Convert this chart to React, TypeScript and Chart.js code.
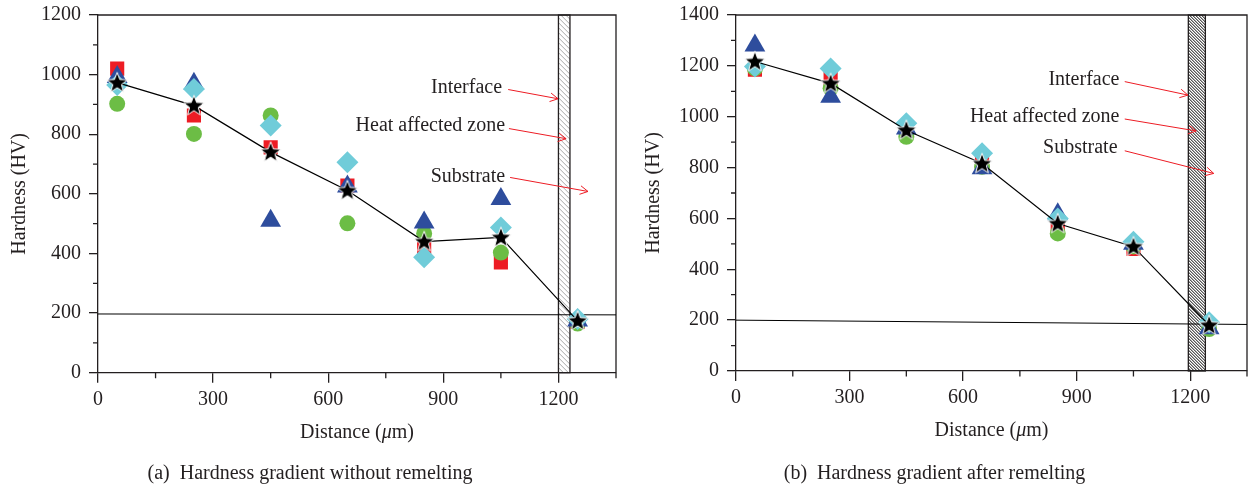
import React, { useEffect, useRef } from 'react';
import { Chart, registerables } from 'chart.js';

Chart.register(...registerables);

// ---------- data ----------
const distances = [50, 250, 450, 650, 850, 1050, 1250];

// (a) without remelting
const aSquare = [1020, 863, 756, 628, 415, 370, 170];
const aTriangle = [992, 969, 510, 625, 504, 583, 175];
const aDiamond = [965, 952, 829, 706, 387, 487, 180];
const aCircle = [902, 801, 863, 501, 467, 403, 165];
const aStar = [973, 896, 740, 611, 440, 454, 174];
const aBaseX = [0, 1350];
const aBaseY = [197, 194];

// (b) after remelting
const bSquare = [1185, 1151, 950, 822, 573, 480, 175];
const bTriangle = [1280, 1079, 954, 797, 616, 500, 168];
const bDiamond = [1197, 1190, 974, 856, 600, 508, 192];
const bCircle = [1190, 1112, 921, 803, 541, 490, 165];
const bStar = [1217, 1131, 947, 816, 580, 489, 180];
const bBaseX = [0, 1350];
const bBaseY = [200, 183];

const xTicks = [0, 300, 600, 900, 1200];
const xMinorTicks = [150, 450, 750, 1050, 1350];
const aYTicks = [0, 200, 400, 600, 800, 1000, 1200];
const aYMinor = [100, 300, 500, 700, 900, 1100];
const bYTicks = [0, 200, 400, 600, 800, 1000, 1200, 1400];
const bYMinor = [100, 300, 500, 700, 900, 1100, 1300];
const zoneLabels = ['Interface', 'Heat affected zone', 'Substrate'];
const aZone = [1200, 1230];
const bZone = [1195, 1240];

const captionA = '(a)\u2002Hardness gradient without remelting';
const captionB = '(b)\u2002Hardness gradient after remelting';

// ---------- styles ----------
const INK = '#231f20';
const RED = '#ed1c24';
const BLUE = '#2e4d9d';
const CYAN = '#70ccd9';
const GREEN = '#6cbd45';
const FAMILY = "'Liberation Serif', 'DejaVu Serif', serif";
const FONT = { family: FAMILY, size: 20 };

function makeStar(): HTMLCanvasElement {
  const c = document.createElement('canvas');
  c.width = 26;
  c.height = 26;
  const g = c.getContext('2d')!;
  const R = 10.8;
  const r = R * 0.42;
  g.beginPath();
  for (let i = 0; i < 10; i++) {
    const rad = i % 2 === 0 ? R : r;
    const ang = -Math.PI / 2 + (i * Math.PI) / 5;
    const px = 13 + rad * Math.cos(ang);
    const py = 13.5 + rad * Math.sin(ang);
    if (i === 0) g.moveTo(px, py);
    else g.lineTo(px, py);
  }
  g.closePath();
  g.fillStyle = '#000';
  g.fill();
  g.strokeStyle = '#fff';
  g.lineWidth = 1;
  g.stroke();
  return c;
}

const pts = (xs: number[], ys: number[]) => xs.map((x, i) => ({ x, y: ys[i] }));

interface Panel {
  square: number[];
  triangle: number[];
  diamond: number[];
  circle: number[];
  star: number[];
  baseX: number[];
  baseY: number[];
  yMax: number;
  yTicks: number[];
  yMinor: number[];
  zone: number[];
  hatchColor: string;
  hatchGap: number;
  yAxisW: number;
  xAxisH: number;
  padRight: number;
  yTitlePad: number;
  labels: { tx: number; ty: number; ax0: number; ay0: number; ax1: number; ay1: number }[];
}

function decorPlugin(p: Panel) {
  return {
    id: 'decor',
    beforeDatasetsDraw(chart: any) {
      const { ctx, chartArea: a, scales } = chart;
      const x = scales.x;
      const x0 = x.getPixelForValue(p.zone[0]);
      const x1 = x.getPixelForValue(p.zone[1]);
      ctx.save();
      ctx.beginPath();
      ctx.rect(x0, a.top, x1 - x0, a.bottom - a.top);
      ctx.clip();
      ctx.strokeStyle = p.hatchColor;
      ctx.lineWidth = 1;
      ctx.beginPath();
      const h = a.bottom - a.top;
      for (let s = x0 - h; s < x1; s += p.hatchGap) {
        ctx.moveTo(s, a.top);
        ctx.lineTo(s + h, a.bottom);
      }
      ctx.stroke();
      ctx.restore();
      ctx.save();
      ctx.strokeStyle = INK;
      ctx.lineWidth = 1.3;
      ctx.strokeRect(x0, a.top, x1 - x0, a.bottom - a.top);
      ctx.beginPath();
      ctx.moveTo(a.left, a.top);
      ctx.lineTo(a.right, a.top);
      ctx.lineTo(a.right, a.bottom);
      ctx.stroke();
      ctx.restore();
    },
    afterDraw(chart: any) {
      const { ctx, chartArea: a, scales } = chart;
      const x = scales.x;
      const y = scales.y;
      ctx.save();
      // minor ticks
      ctx.strokeStyle = INK;
      ctx.lineWidth = 1.3;
      ctx.beginPath();
      p.yMinor.forEach((v) => {
        const py = y.getPixelForValue(v);
        ctx.moveTo(a.left - 5, py);
        ctx.lineTo(a.left, py);
      });
      xMinorTicks.forEach((v) => {
        const px = x.getPixelForValue(v);
        ctx.moveTo(px, a.bottom);
        ctx.lineTo(px, a.bottom + 5.5);
      });
      ctx.stroke();

      // zone labels with arrows
      ctx.font = `20px ${FAMILY}`;
      ctx.fillStyle = INK;
      ctx.textAlign = 'right';
      ctx.textBaseline = 'middle';
      p.labels.forEach((l, i) => {
        ctx.fillText(zoneLabels[i], x.getPixelForValue(l.tx), y.getPixelForValue(l.ty));
        const sx = x.getPixelForValue(l.ax0);
        const sy = y.getPixelForValue(l.ay0);
        const ex = x.getPixelForValue(l.ax1);
        const ey = y.getPixelForValue(l.ay1);
        const ang = Math.atan2(ey - sy, ex - sx);
        ctx.strokeStyle = RED;
        ctx.lineWidth = 1;
        ctx.beginPath();
        ctx.moveTo(sx, sy);
        ctx.lineTo(ex, ey);
        const len = 9;
        const spread = 0.5;
        ctx.moveTo(ex - len * Math.cos(ang - spread), ey - len * Math.sin(ang - spread));
        ctx.lineTo(ex, ey);
        ctx.lineTo(ex - len * Math.cos(ang + spread), ey - len * Math.sin(ang + spread));
        ctx.stroke();
      });

      // x-axis title with italic mu
      const parts: [string, string][] = [
        ['Distance (', `20px ${FAMILY}`],
        ['\u03bc', `italic 20px ${FAMILY}`],
        ['m)', `20px ${FAMILY}`],
      ];
      let total = 0;
      parts.forEach(([t, f]) => {
        ctx.font = f;
        total += ctx.measureText(t).width;
      });
      let cx = (a.left + a.right) / 2 - total / 2;
      const cy = a.bottom + 60;
      ctx.textAlign = 'left';
      ctx.fillStyle = INK;
      parts.forEach(([t, f]) => {
        ctx.font = f;
        ctx.fillText(t, cx, cy);
        cx += ctx.measureText(t).width;
      });
      ctx.restore();
    },
  };
}

function buildConfig(p: Panel, star: HTMLCanvasElement): any {
  return {
    type: 'scatter',
    data: {
      datasets: [
        {
          label: 'Average',
          data: pts(distances, p.star),
          showLine: true,
          borderColor: '#000',
          borderWidth: 1.2,
          pointStyle: star,
          pointRadius: 10,
          order: 0,
        },
        {
          label: 'Diamond',
          data: pts(distances, p.diamond),
          pointStyle: 'rectRot',
          pointRadius: 11,
          backgroundColor: CYAN,
          borderWidth: 0,
          order: 1,
        },
        {
          label: 'Triangle',
          data: pts(distances, p.triangle),
          pointStyle: 'triangle',
          pointRadius: 12,
          backgroundColor: BLUE,
          borderWidth: 0,
          order: 2,
        },
        {
          label: 'Circle',
          data: pts(distances, p.circle),
          pointStyle: 'circle',
          pointRadius: 8,
          backgroundColor: GREEN,
          borderWidth: 0,
          order: 3,
        },
        {
          label: 'Square',
          data: pts(distances, p.square),
          pointStyle: 'rect',
          pointRadius: 10,
          backgroundColor: RED,
          borderWidth: 0,
          order: 4,
        },
        {
          label: 'Base',
          data: pts(p.baseX, p.baseY),
          showLine: true,
          borderColor: '#000',
          borderWidth: 1,
          pointRadius: 0,
          order: 5,
        },
      ],
    },
    options: {
      animation: false,
      responsive: false,
      events: [],
      layout: { padding: { top: 15, right: p.padRight, left: 0, bottom: 0 } },
      plugins: { legend: { display: false }, tooltip: { enabled: false } },
      scales: {
        x: {
          type: 'linear',
          min: 0,
          max: 1350,
          afterBuildTicks: (s: any) => {
            s.ticks = xTicks.map((v) => ({ value: v }));
          },
          afterFit: (s: any) => {
            s.height = p.xAxisH;
            s.paddingLeft = 0;
            s.paddingRight = 0;
          },
          grid: { drawOnChartArea: false, tickLength: 10, color: INK, lineWidth: 1.3 },
          border: { color: INK, width: 1.3 },
          ticks: {
            color: INK,
            font: FONT,
            padding: 5,
            maxRotation: 0,
            autoSkip: false,
            callback: (v: number) => String(v),
          },
        },
        y: {
          type: 'linear',
          min: 0,
          max: p.yMax,
          afterBuildTicks: (s: any) => {
            s.ticks = p.yTicks.map((v) => ({ value: v }));
          },
          afterFit: (s: any) => {
            s.width = p.yAxisW;
            s.paddingTop = 0;
            s.paddingBottom = 0;
          },
          grid: { drawOnChartArea: false, tickLength: 9, color: INK, lineWidth: 1.3 },
          border: { color: INK, width: 1.3 },
          ticks: {
            color: INK,
            font: FONT,
            padding: 8,
            autoSkip: false,
            callback: (v: number) => String(v),
          },
          title: {
            display: true,
            text: 'Hardness (HV)',
            color: INK,
            font: { family: FAMILY, size: 20, lineHeight: 1 },
            padding: { top: p.yTitlePad, bottom: 0 },
          },
        },
      },
    },
    plugins: [decorPlugin(p)],
  };
}

const panelA: Panel = {
  square: aSquare,
  triangle: aTriangle,
  diamond: aDiamond,
  circle: aCircle,
  star: aStar,
  baseX: aBaseX,
  baseY: aBaseY,
  yMax: 1200,
  yTicks: aYTicks,
  yMinor: aYMinor,
  zone: aZone,
  hatchColor: '#a8a8a8',
  hatchGap: 5,
  yAxisW: 98,
  xAxisH: 114.3,
  padRight: 0,
  yTitlePad: 10,
  labels: [
    { tx: 1053, ty: 957, ax0: 1069, ay0: 950, ax1: 1199, ay1: 919 },
    { tx: 1061, ty: 827, ax0: 1071, ay0: 819, ax1: 1220, ay1: 785 },
    { tx: 1061, ty: 659, ax0: 1074, ay0: 655, ax1: 1277, ay1: 608 },
  ],
};

const panelB: Panel = {
  square: bSquare,
  triangle: bTriangle,
  diamond: bDiamond,
  circle: bCircle,
  star: bStar,
  baseX: bBaseX,
  baseY: bBaseY,
  yMax: 1400,
  yTicks: bYTicks,
  yMinor: bYMinor,
  zone: bZone,
  hatchColor: '#000',
  hatchGap: 3,
  yAxisW: 116,
  xAxisH: 116,
  padRight: 0,
  yTitlePad: 24,
  labels: [
    { tx: 1013, ty: 1144, ax0: 1027, ay0: 1138, ax1: 1194, ay1: 1085 },
    { tx: 1013, ty: 1000, ax0: 1027, ay0: 991, ax1: 1216, ay1: 944 },
    { tx: 1008, ty: 876, ax0: 1027, ay0: 866, ax1: 1262, ay1: 777 },
  ],
};

function ChartCanvas({ panel, width }: { panel: Panel; width: number }) {
  const ref = useRef<HTMLCanvasElement>(null);
  useEffect(() => {
    if (!ref.current) return;
    const chart = new Chart(ref.current, buildConfig(panel, makeStar()));
    return () => chart.destroy();
  }, [panel]);
  return <canvas ref={ref} width={width} height={487} style={{ width, height: 487, display: 'block' }} />;
}

export default function App() {
  const captionStyle: React.CSSProperties = {
    position: 'absolute',
    top: 460,
    fontFamily: FAMILY,
    fontSize: 20,
    lineHeight: '24px',
    color: INK,
    textAlign: 'center',
    whiteSpace: 'pre',
  };
  return (
    <div style={{ position: 'absolute', left: 0, top: 0, width: 1249, height: 487, background: '#fff', overflow: 'hidden' }}>
      <div style={{ position: 'absolute', left: 0, top: 0 }}>
        <ChartCanvas panel={panelA} width={628} />
      </div>
      <div style={{ position: 'absolute', left: 620, top: 0 }}>
        <ChartCanvas panel={panelB} width={639} />
      </div>
      <div style={{ ...captionStyle, left: 0, width: 620 }}>{captionA}</div>
      <div style={{ ...captionStyle, left: 620, width: 629 }}>{captionB}</div>
    </div>
  );
}
